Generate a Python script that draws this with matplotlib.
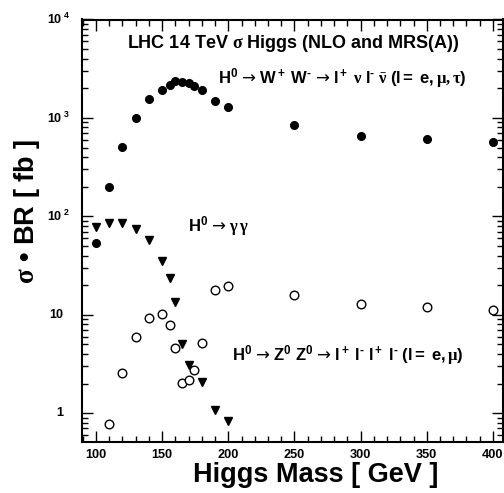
import matplotlib
matplotlib.use('Agg')
import matplotlib.pyplot as plt
import matplotlib.transforms as mtransforms
from matplotlib.ticker import MultipleLocator, LogLocator, NullFormatter
import numpy as np

plt.rcParams['font.family'] = ['Liberation Sans', 'DejaVu Sans']
plt.rcParams['font.weight'] = 'bold'
plt.rcParams['mathtext.fontset'] = 'custom'
plt.rcParams['mathtext.rm'] = 'Liberation Serif'
plt.rcParams['mathtext.it'] = 'Liberation Serif:italic'
plt.rcParams['mathtext.bf'] = 'Liberation Sans:bold'
plt.rcParams['mathtext.sf'] = 'DejaVu Sans:weight=normal'

# ---- data ----
ww_mass = [100, 110, 120, 130, 140, 150, 156, 160, 165, 170, 174, 180, 190, 200, 250, 300, 350, 400]
ww_xsec = [54, 200, 510, 1000, 1540, 1930, 2150, 2350, 2310, 2240, 2120, 1930, 1500, 1300, 843, 652, 616, 566]

gg_mass = [100, 110, 120, 130, 140, 150, 156, 160, 165, 170, 180, 190, 200]
gg_xsec = [78, 85, 85, 75, 58, 35, 23.8, 13.5, 5.1, 3.1, 2.06, 1.07, 0.83]

zz_mass = [110, 120, 130, 140, 150, 156, 160, 165, 170, 174, 180, 190, 200, 250, 300, 350, 400]
zz_xsec = [0.78, 2.55, 5.9, 9.2, 10.1, 7.9, 4.57, 2.03, 2.2, 2.72, 5.14, 17.8, 19.4, 15.8, 12.9, 12.1, 11.3]

xtick_vals = [100, 150, 200, 250, 300, 350, 400]
ytick_vals = [1, 10, 100, 1000, 10000]
ytick_labels = ['1', '10', r'$\mathbf{10^{\ 2}}$', r'$\mathbf{10^{\ 3}}$', r'$\mathbf{10^{\ 4}}$']

W, H = 504, 493
fig = plt.figure(figsize=(W / 100, H / 100), dpi=100)
L, R, T, B = 82, 503, 19.5, 442
ax = fig.add_axes([L / W, (H - B) / H, (R - L) / W, (B - T) / H])

ax.plot(ww_mass, ww_xsec, 'o', color='black', markersize=5.5, linestyle='none')
ax.plot(gg_mass, gg_xsec, 'v', color='black', markersize=5.5, linestyle='none')
ax.plot(zz_mass, zz_xsec, 'o', markerfacecolor='white', markeredgecolor='black',
        markeredgewidth=1.0, markersize=6.2, linestyle='none')

ax.set_yscale('log')
ax.set_xlim(89.4, 407.6)
ax.set_ylim(0.51, 1e4)

ax.xaxis.set_major_locator(plt.FixedLocator(xtick_vals))
ax.xaxis.set_minor_locator(MultipleLocator(10))
ax.yaxis.set_major_locator(LogLocator(base=10, subs=(1.0,)))
ax.yaxis.set_minor_locator(LogLocator(base=10, subs=np.arange(2, 10)))
ax.yaxis.set_major_formatter(NullFormatter())
ax.yaxis.set_minor_formatter(NullFormatter())
ax.set_xticklabels([str(v) for v in xtick_vals], fontsize=9.2, fontweight='bold')
ax.tick_params(which='both', direction='in', top=True, right=True, width=1.0)
ax.tick_params(which='major', length=8, pad=5)
ax.tick_params(which='minor', length=4)
for s in ax.spines.values():
    s.set_linewidth(1.5)

# y tick labels
tr = mtransforms.blended_transform_factory(fig.transFigure, ax.transData)
for v, lab in zip(ytick_vals, ytick_labels):
    if lab.startswith('$'):
        ax.text(47 / W, v, lab, transform=tr, ha='left', va='center', fontsize=9, fontweight='bold')
    else:
        ax.text(63 / W, v, lab, transform=tr, ha='right', va='center', fontsize=9, fontweight='bold')

def px(x, y):
    return x / W, 1 - y / H

ARR = r'\ \mathsf{→}\ '
fig.text(*px(293, 48.3), r'LHC 14 TeV $\mathrm{σ}$ Higgs (NLO and MRS(A))',
         ha='center', va='baseline', fontsize=13, fontweight='bold')
fig.text(*px(218, 83.5),
         r'$\mathbf{H^0}' + ARR + r'\mathbf{W^+}\ \mathbf{W^{‐}}' + ARR +
         r'\mathbf{l^+}\ \mathrm{ν}\ \mathbf{l^{‐}}\ \bar{\mathrm{ν}}\ \mathbf{(l{=}\ e,}\mathrm{μ},\mathrm{τ}\mathbf{)}$',
         ha='left', va='baseline', fontsize=12)
fig.text(*px(188, 231), r'$\mathbf{H^0}' + ARR + r'\mathrm{γ\,γ}$',
         ha='left', va='baseline', fontsize=12)
fig.text(*px(232, 360),
         r'$\mathbf{H^0}' + ARR + r'\mathbf{Z^0}\ \mathbf{Z^0}' + ARR +
         r'\mathbf{l^+}\ \mathbf{l^{‐}}\ \mathbf{l^+}\ \mathbf{l^{‐}}\ \mathbf{(l{=}\ e,}\mathrm{μ}\mathbf{)}$',
         ha='left', va='baseline', fontsize=12)

fig.text(*px(316, 482), 'Higgs Mass [ GeV ]', ha='center', va='baseline', fontsize=19.5, fontweight='bold')
fig.text(*px(27, 211), r'$\mathrm{σ}$ • BR [ fb ]', rotation=90, ha='center', va='center',
         fontsize=19.5, fontweight='bold')

fig.savefig('out.png', dpi=100)
